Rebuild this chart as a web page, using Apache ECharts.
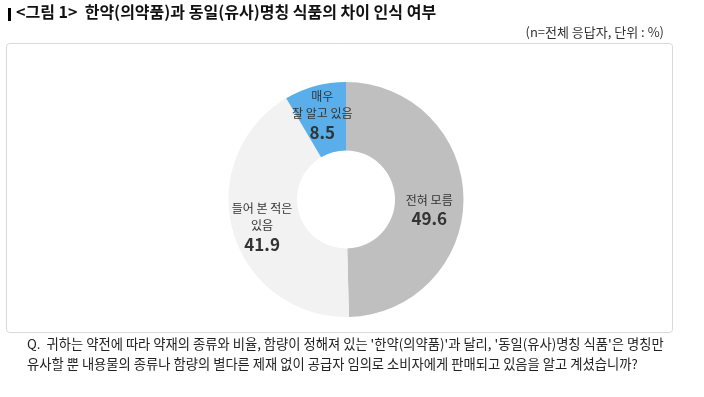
<!DOCTYPE html>
<html>
<head>
<meta charset="utf-8">
<script src="https://cdn.jsdelivr.net/npm/echarts@6/dist/echarts.min.js"></script>
<style>
  html, body { margin: 0; padding: 0; background: #fff; }
  #chart { width: 704px; height: 397px; }
</style>
</head>
<body>
<div id="chart"></div>
<script>
// 응답 항목과 비율(%)
var categories = ['전혀 모름', '들어 본 적은\n있음', '매우\n잘 알고 있음'];
var values = [49.6, 41.9, 8.5];
var colors = ['#bfbfbf', '#f2f2f2', '#5aafea'];
var labelOffsets = [[-3, 12], [-1, 4], [-1, -1]];

var titleText = '<그림 1>  한약(의약품)과 동일(유사)명칭 식품의 차이 인식 여부';
var noteText = '(n=전체 응답자, 단위 : %)';
var questionLines = [
  'Q.  귀하는 약전에 따라 약재의 종류와 비율, 함량이 정해져 있는 \'한약(의약품)\'과 달리, \'동일(유사)명칭 식품\'은 명칭만',
  '유사할 뿐 내용물의 종류나 함량의 별다른 제재 없이 공급자 임의로 소비자에게 판매되고 있음을 알고 계셨습니까?'
];

var font = '"Noto Sans CJK KR", sans-serif';
var myChart = echarts.init(document.getElementById('chart'));

var pieData = categories.map(function (name, i) {
  return {
    name: name,
    value: values[i],
    itemStyle: { color: colors[i] },
    label: { offset: labelOffsets[i] }
  };
});

var option = {
  backgroundColor: '#fff',
  animation: false,
  graphic: [
    {
      type: 'rect',
      shape: { x: 6.5, y: 43.5, width: 666, height: 289, r: 3 },
      style: { fill: '#fff', stroke: '#d9d9d9', lineWidth: 1 },
      z: -10
    },
    {
      type: 'rect',
      shape: { x: 8, y: 8, width: 3, height: 13 },
      style: { fill: '#000' }
    },
    {
      type: 'text',
      left: 16, top: 4,
      style: { text: titleText, font: 'bold 16px ' + font, fill: '#111' }
    },
    {
      type: 'text',
      right: 40, top: 26,
      style: { text: noteText, font: '13px ' + font, fill: '#333' }
    },
    {
      type: 'text',
      left: 27, top: 334,
      style: { text: questionLines.join('\n'), font: '13.3px ' + font, fill: '#222', lineHeight: 20 }
    }
  ],
  series: [
    {
      type: 'pie',
      center: [346, 199.5],
      radius: [49, 117.5],
      startAngle: 90,
      clockwise: true,
      silent: true,
      data: pieData,
      label: {
        show: true,
        position: 'inside',
        formatter: function (p) {
          return '{n|' + p.name + '}\n{v|' + p.value + '}';
        },
        rich: {
          n: { fontFamily: font, fontSize: 12, color: '#333', lineHeight: 17, align: 'center' },
          v: { fontFamily: font, fontSize: 17, fontWeight: 'bold', color: '#333', lineHeight: 20, align: 'center' }
        }
      },
      labelLine: { show: false },
      itemStyle: { borderWidth: 0 }
    }
  ]
};

myChart.setOption(option);
</script>
</body>
</html>
